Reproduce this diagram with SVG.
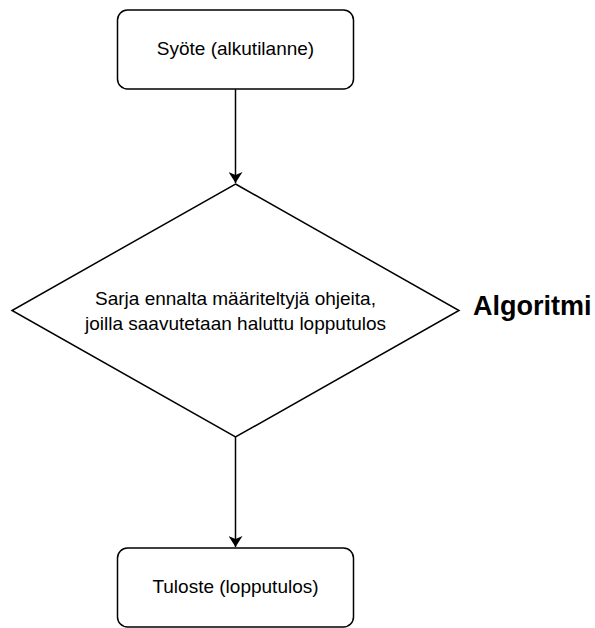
<svg xmlns="http://www.w3.org/2000/svg" width="595" height="628" viewBox="0 0 595 628">
<defs>
<marker id="arr" markerWidth="14" markerHeight="14" refX="11" refY="7" orient="auto" markerUnits="userSpaceOnUse">
<path d="M0,0 L11,7 L0,14 L3,7 Z" fill="#000"/>
</marker>
<style>
.box{fill:#fff;stroke:#000;stroke-width:1.5}
.t{font-family:"Liberation Sans",Arial,sans-serif;font-size:19px;fill:#000;text-anchor:middle}
.edge{stroke:#000;stroke-width:1.5;fill:none}
</style>
</defs>
<rect width="595" height="628" fill="#fff"/>
<g id="connectors">
<line class="edge" x1="235.5" y1="89" x2="235.5" y2="183" marker-end="url(#arr)"/>
<line class="edge" x1="235.5" y1="437" x2="235.5" y2="547" marker-end="url(#arr)"/>
</g>
<g id="syote">
<rect class="box" x="117.5" y="10" width="236" height="79" rx="10"/>
<text class="t" x="235.5" y="55">Syöte (alkutilanne)</text>
</g>
<g id="algoritmi">
<polygon class="box" points="235.5,184 459,310.5 235.5,437 12,310.5"/>
<text class="t" x="235.5" y="305">Sarja ennalta määriteltyjä ohjeita,</text>
<text class="t" x="235.5" y="330">joilla saavutetaan haluttu lopputulos</text>
</g>
<g id="tuloste">
<rect class="box" x="117.5" y="548" width="236" height="79" rx="10"/>
<text class="t" x="235.5" y="593">Tuloste (lopputulos)</text>
</g>
<g id="label">
<text x="473" y="315" style="font-family:'Liberation Sans',Arial,sans-serif;font-size:27px;font-weight:bold;fill:#000">Algoritmi</text>
</g>
</svg>
